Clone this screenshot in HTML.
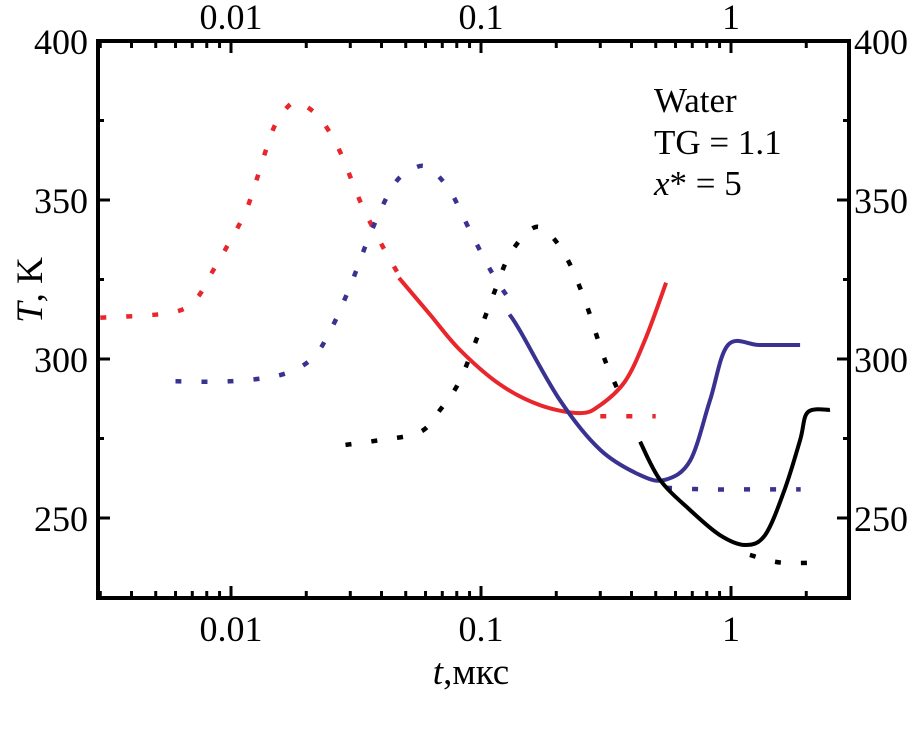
<!DOCTYPE html>
<html><head><meta charset="utf-8"><style>
body{margin:0;background:#fff}
svg text{font-family:"Liberation Serif","DejaVu Serif",serif;fill:#000}
</style></head><body>
<svg width="914" height="725" viewBox="0 0 914 725">
<g id="axes"></g><g id="series"></g>
<rect x="98" y="41" width="751" height="557" fill="none" stroke="#000" stroke-width="4"/>
<text x="654" y="112" font-size="35">Water</text>
<text x="654" y="154" font-size="35">TG = 1.1</text>
<text x="654" y="195" font-size="35"><tspan font-style="italic">x</tspan>* = 5</text>
<text transform="translate(42,290) rotate(-90)" font-size="37" text-anchor="middle"><tspan font-style="italic">T</tspan>, K</text>
<text x="471" y="684" font-size="37" text-anchor="middle"><tspan font-style="italic">t</tspan>,мкс</text>
</svg>
<script>
const xTicks=[0.01,0.1,1];
const xTickLabels=["0.01","0.1","1"];
const yTicks=[250,300,350,400];
const yTickLabels=["250","300","350","400"];
const redDotT=[0.0030,0.0057,0.0072,0.0085,0.0099,0.0114,0.0125,0.0137,0.0151,0.0172,0.0188,0.0225,0.027,0.0327,0.0394,0.0473];
const redDotV=[313,314.5,318.6,328,337,346,355,365,374,380,380.5,376,366,350,337,326];
const redTailT=[0.30,0.5];
const redTailV=[282,282];
const redSolT=[0.047,0.0625,0.082,0.119,0.172,0.249,0.3,0.377,0.453,0.55];
const redSolV=[325.5,314,303,292,285.5,283,285.5,293,306,324];
const blueDotT=[0.006,0.0099,0.0158,0.021,0.025,0.03,0.0366,0.045,0.054,0.062,0.075,0.09,0.109,0.13];
const blueDotV=[293,293,295,300,309,323,340.6,355,360,360,353,340.6,328,318.6];
const blueTailT=[0.55,0.8,1.2,1.9];
const blueTailV=[259.5,259,259,259];
const blueSolT=[0.13,0.143,0.207,0.3,0.433,0.545,0.686,0.824,0.973,1.3,1.89];
const blueSolV=[314,309,287,271.4,263.5,262,268,287,304.4,304.4,304.4];
const blackDotT=[0.0287,0.0394,0.057,0.0686,0.082,0.099,0.114,0.13,0.157,0.18,0.217,0.26,0.313,0.377];
const blackDotV=[273,274.5,277,284,293,309,321.7,332.7,340.6,340.6,332.7,318.6,299.7,285.5];
const blackTailT=[1.19,1.57,2.27];
const blackTailV=[238.4,236,236];
const blackSolT=[0.433,0.52,0.686,0.9,1.14,1.37,1.64,1.89,2.03,2.49];
const blackSolV=[274,262,252.5,244.7,241.5,244.7,259,274.5,283.3,284];

const NS="http://www.w3.org/2000/svg";
function X(t){return 731+250*Math.log10(t);}
function Y(v){return 41+(400-v)*3.18;}
const axes=document.getElementById('axes'), ser=document.getElementById('series');
function el(tag,attrs,parent){const e=document.createElementNS(NS,tag);for(const k in attrs)e.setAttribute(k,attrs[k]);parent.appendChild(e);return e;}
for(let d=-3;d<=0;d++){for(let m=1;m<=9;m++){const t=m*Math.pow(10,d);const x=X(t);if(x<98||x>849)continue;const L=m===1?12:7;
 const a=el('line',{x1:x,x2:x,y1:598,y2:598-L,stroke:'#000','stroke-width':3},axes);
 
 
 const b=el('line',{x1:x,x2:x,y1:41,y2:41+L,stroke:'#000','stroke-width':3},axes);
 
 }}
xTicks.forEach((t,i)=>{
 const a=el('text',{x:X(t),y:641,'font-size':36,'text-anchor':'middle'},axes);a.textContent=xTickLabels[i];
 
 
 const b=el('text',{x:X(t),y:29,'font-size':36,'text-anchor':'middle'},axes);b.textContent=xTickLabels[i];
 
 
});
for(let v=225;v<=400;v+=25){const L=v%50===0?12:6;const y=Y(v);
 const a=el('line',{x1:98,x2:98+L,y1:y,y2:y,stroke:'#000','stroke-width':3},axes);
 
 
 const b=el('line',{x1:849,x2:849-L,y1:y,y2:y,stroke:'#000','stroke-width':3},axes);
 
 }
yTicks.forEach((v,i)=>{
 const a=el('text',{x:88,y:Y(v)+13,'font-size':36,'text-anchor':'end'},axes);a.textContent=yTickLabels[i];
 
 
 const b=el('text',{x:854,y:Y(v)+13,'font-size':36},axes);b.textContent=yTickLabels[i];
 
 
});
function line(T,V,color,dotted,name){
 const P=T.map((t,i)=>[X(t),Y(V[i])]);
 let d='M'+P[0][0].toFixed(1)+','+P[0][1].toFixed(1);
 for(let i=0;i<P.length-1;i++){
  const p0=P[i-1]||P[i],p1=P[i],p2=P[i+1],p3=P[i+2]||P[i+1];
  const c1=[p1[0]+(p2[0]-p0[0])/6,p1[1]+(p2[1]-p0[1])/6];
  const c2=[p2[0]-(p3[0]-p1[0])/6,p2[1]-(p3[1]-p1[1])/6];
  d+='C'+c1[0].toFixed(1)+','+c1[1].toFixed(1)+' '+c2[0].toFixed(1)+','+c2[1].toFixed(1)+' '+p2[0].toFixed(1)+','+p2[1].toFixed(1);
 }
 const p=el('path',{d:d,fill:'none',stroke:color,'stroke-width':dotted?4.5:4,'stroke-dasharray':dotted?'6 20':'none','stroke-linejoin':'round'},ser);
 
 
}
line(redDotT,redDotV,'#e8262b',true,'red-dotted-line');
line(redTailT,redTailV,'#e8262b',true,'red-dotted-tail');
line(redSolT,redSolV,'#e8262b',false,'red-solid-line');
line(blueDotT,blueDotV,'#3a3290',true,'blue-dotted-line');
line(blueTailT,blueTailV,'#3a3290',true,'blue-dotted-tail');
line(blueSolT,blueSolV,'#3a3290',false,'blue-solid-line');
line(blackDotT,blackDotV,'#000',true,'black-dotted-line');
line(blackTailT,blackTailV,'#000',true,'black-dotted-tail');
line(blackSolT,blackSolV,'#000',false,'black-solid-line');
</script>
</body></html>
